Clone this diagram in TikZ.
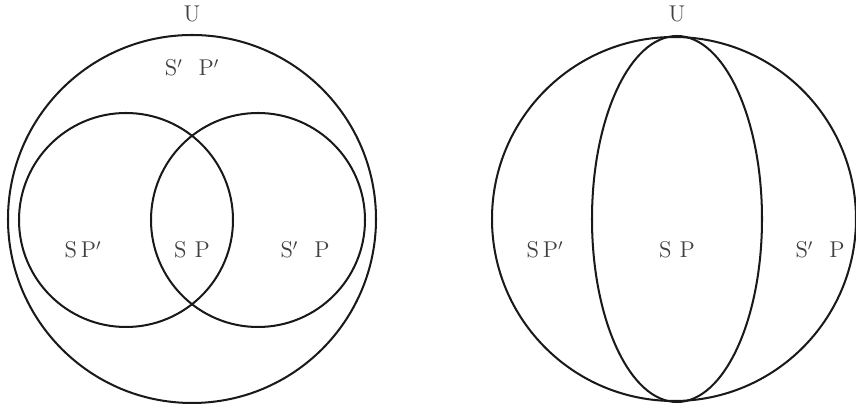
\documentclass[tikz,border=0pt]{standalone}
\usepackage{tikz}

\tikzset{
  setline/.style={line width=1.15pt, black!90},
  setlabel/.style={text=black!75, font=\fontsize{13}{15}\selectfont, inner sep=0pt}
}

\begin{document}
\begin{tikzpicture}[x=0.02cm, y=-0.02cm]
    \useasboundingbox (0,0) rectangle (856,404);

    % Left diagram: universe with two overlapping sets
    \draw[setline] (192,219) circle [radius=184];
    \draw[setline] (126,220) circle [radius=107];
    \draw[setline] (258,220) circle [radius=107];

    \node[setlabel] (uleft) at (192,14) {U};
    \node[setlabel] (nsnp) at (192,68) {S$'$\hspace{0.7em}P$'$};
    \node[setlabel] (snpl) at (83,250) {S\,P$'$};
    \node[setlabel] (spl) at (192,250) {S\hspace{0.35em}P};
    \node[setlabel] (nspl) at (305,250) {S$'$\hspace{0.7em}P};

    % Right diagram: universe split by an ellipse
    \draw[setline] (674,219) circle [radius=182];
    \draw[setline] (677,219) ellipse [x radius=85, y radius=183];

    \node[setlabel] (uright) at (677,14) {U};
    \node[setlabel] (snpr) at (545,250) {S\,P$'$};
    \node[setlabel] (spr) at (677,250) {S\hspace{0.35em}P};
    \node[setlabel] (nspr) at (820,250) {S$'$\hspace{0.7em}P};

\end{tikzpicture}
\end{document}
